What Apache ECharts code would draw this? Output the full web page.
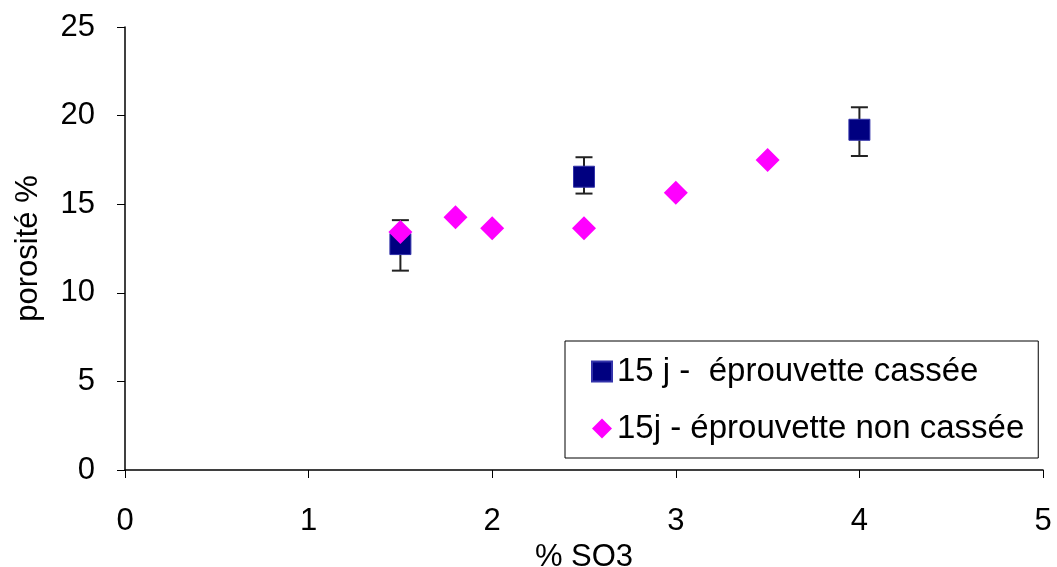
<!DOCTYPE html>
<html>
<head>
<meta charset="utf-8">
<script src="https://cdn.jsdelivr.net/npm/echarts@6/dist/echarts.min.js"></script>
<style>html,body{margin:0;padding:0;background:#fff}#c{width:1057px;height:567px}</style>
</head>
<body>
<div id="c"></div>
<script>
// Series 1: 15 j - éprouvette cassée (with error bars)
const casseeX = [1.5, 2.5, 4];
const casseeY = [12.75, 16.55, 19.2];
const casseeLow = [11.25, 15.6, 17.72];
const casseeHigh = [14.1, 17.65, 20.47];
// Series 2: 15j - éprouvette non cassée
const nonCasseeX = [1.5, 1.8, 2, 2.5, 3, 3.5];
const nonCasseeY = [13.43, 14.26, 13.64, 13.64, 15.65, 17.5];
const xTicks = [0, 1, 2, 3, 4, 5];
const yTicks = [0, 5, 10, 15, 20, 25];

const font = 'Liberation Sans, Arial, sans-serif';
const chart = echarts.init(document.getElementById('c'));
const errData = casseeX.map((x, i) => [x, casseeLow[i], casseeHigh[i]]);
chart.setOption({
  animation: false,
  grid: {left: 125, right: 14, top: 27, bottom: 97, containLabel: false, outerBoundsMode: 'none'},
  xAxis: {
    type: 'value', min: xTicks[0], max: xTicks[xTicks.length - 1], interval: 1,
    name: '% SO3', nameLocation: 'middle', nameGap: 62,
    nameTextStyle: {color: '#000', fontSize: 31, fontFamily: font},
    axisLine: {show: true, lineStyle: {color: '#000', width: 1.5}},
    axisTick: {show: true, length: 8, lineStyle: {color: '#000'}},
    axisLabel: {color: '#000', fontSize: 31, fontFamily: font, margin: 36},
    splitLine: {show: false}
  },
  yAxis: {
    type: 'value', min: yTicks[0], max: yTicks[yTicks.length - 1], interval: 5,
    name: 'porosité %', nameLocation: 'middle', nameGap: 81,
    nameTextStyle: {color: '#000', fontSize: 31, fontFamily: font},
    axisLine: {show: true, onZero: false, lineStyle: {color: '#000', width: 1.5}},
    axisTick: {show: true, length: 8, lineStyle: {color: '#000'}},
    axisLabel: {color: '#000', fontSize: 31, fontFamily: font, margin: 30},
    splitLine: {show: false}
  },
  legend: {
    orient: 'vertical', left: 565, top: 341,
    padding: [14, 14, 13, 26], itemGap: 24,
    borderColor: '#000', borderWidth: 1, backgroundColor: '#fff',
    itemWidth: 20, itemHeight: 20,
    textStyle: {color: '#000', fontSize: 33, fontFamily: font},
    data: [
      {name: '15 j -  éprouvette cassée', icon: 'rect'},
      {name: '15j - éprouvette non cassée', icon: 'diamond'}
    ]
  },
  series: [
    {
      type: 'custom', name: 'err', z: 1,
      data: errData,
      renderItem: function (params, api) {
        const x = api.value(0);
        const lo = api.coord([x, api.value(1)]);
        const hi = api.coord([x, api.value(2)]);
        const w = 8.5;
        const st = {stroke: '#222', lineWidth: 2};
        return {type: 'group', children: [
          {type: 'line', shape: {x1: lo[0], y1: lo[1], x2: hi[0], y2: hi[1]}, style: st},
          {type: 'line', shape: {x1: lo[0]-w, y1: lo[1], x2: lo[0]+w, y2: lo[1]}, style: st},
          {type: 'line', shape: {x1: hi[0]-w, y1: hi[1], x2: hi[0]+w, y2: hi[1]}, style: st}
        ]};
      },
      silent: true
    },
    {
      type: 'scatter', name: '15 j -  éprouvette cassée', z: 2,
      symbol: 'rect', symbolSize: 21,
      itemStyle: {color: '#000080', borderColor: '#3333aa', borderWidth: 1, opacity: 1},
      data: casseeX.map((x, i) => [x, casseeY[i]])
    },
    {
      type: 'scatter', name: '15j - éprouvette non cassée', z: 3,
      symbol: 'diamond', symbolSize: 24,
      itemStyle: {color: '#FF00FF', opacity: 1},
      data: nonCasseeX.map((x, i) => [x, nonCasseeY[i]])
    }
  ]
});
</script>
</body>
</html>
